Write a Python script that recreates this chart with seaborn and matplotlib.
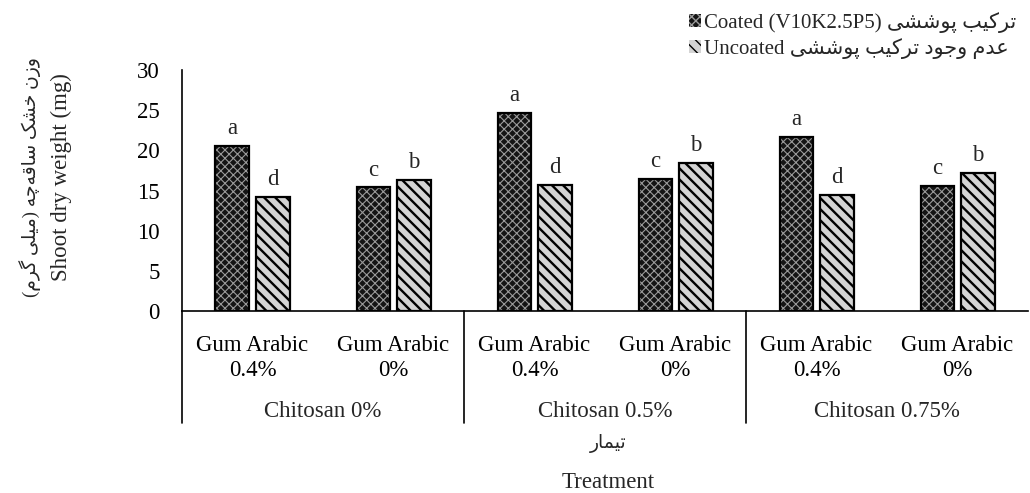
import matplotlib
matplotlib.use("Agg")
import matplotlib.pyplot as plt
import matplotlib.transforms as mtransforms
import seaborn as sns
import pandas as pd

# ---------------------------------------------------------------- data
chitosan_groups = ["Chitosan 0%", "Chitosan 0.5%", "Chitosan 0.75%"]
gum_levels = ["Gum Arabic\n0.4%", "Gum Arabic\n0%"]
coated_weight = [20.5, 15.4, 24.6, 16.5, 21.7, 15.6]
uncoated_weight = [14.2, 16.3, 15.7, 18.4, 14.5, 17.2]
coated_letters = ["a", "c", "a", "c", "a", "c"]
uncoated_letters = ["d", "b", "d", "b", "d", "b"]
coating_en = ["Coated (V10K2.5P5)", "Uncoated"]
coating_fa = ["ترکیب پوششی", "عدم وجود ترکیب پوششی"]
y_ticks = [0, 5, 10, 15, 20, 25, 30]
ylabel_en = "Shoot dry weight (mg)"
ylabel_fa = "وزن خشک ساقه\u200cچه (میلی گرم)"
xlabel_en = "Treatment"
xlabel_fa = "تیمار"

# ------------------------------------------- Persian glyph shaping (visual order)
# letter: (isolated, final, initial, medial); None = letter does not join forward
FORMS = {
    "\u0627": ("\uFE8D", "\uFE8E", None, None),
    "\u0628": ("\uFE8F", "\uFE90", "\uFE91", "\uFE92"),
    "\u067E": ("\uFB56", "\uFB57", "\uFB58", "\uFB59"),
    "\u062A": ("\uFE95", "\uFE96", "\uFE97", "\uFE98"),
    "\u062C": ("\uFE9D", "\uFE9E", "\uFE9F", "\uFEA0"),
    "\u0686": ("\uFB7A", "\uFB7B", "\uFB7C", "\uFB7D"),
    "\u062E": ("\uFEA5", "\uFEA6", "\uFEA7", "\uFEA8"),
    "\u062F": ("\uFEA9", "\uFEAA", None, None),
    "\u0631": ("\uFEAD", "\uFEAE", None, None),
    "\u0632": ("\uFEAF", "\uFEB0", None, None),
    "\u0633": ("\uFEB1", "\uFEB2", "\uFEB3", "\uFEB4"),
    "\u0634": ("\uFEB5", "\uFEB6", "\uFEB7", "\uFEB8"),
    "\u0639": ("\uFEC9", "\uFECA", "\uFECB", "\uFECC"),
    "\u0642": ("\uFED5", "\uFED6", "\uFED7", "\uFED8"),
    "\u06A9": ("\uFB8E", "\uFB8F", "\uFB90", "\uFB91"),
    "\u06AF": ("\uFB92", "\uFB93", "\uFB94", "\uFB95"),
    "\u0644": ("\uFEDD", "\uFEDE", "\uFEDF", "\uFEE0"),
    "\u0645": ("\uFEE1", "\uFEE2", "\uFEE3", "\uFEE4"),
    "\u0646": ("\uFEE5", "\uFEE6", "\uFEE7", "\uFEE8"),
    "\u0647": ("\uFEE9", "\uFEEA", "\uFEEB", "\uFEEC"),
    "\u0648": ("\uFEED", "\uFEEE", None, None),
    "\u06CC": ("\uFBFC", "\uFBFD", "\uFBFE", "\uFBFF"),
}


def rtl(text):
    out = []
    for i, ch in enumerate(text):
        if ch not in FORMS:
            out.append(ch)
            continue
        prev = text[i - 1] if i > 0 else None
        nxt = text[i + 1] if i + 1 < len(text) else None
        iso, fin, ini, med = FORMS[ch]
        join_prev = prev in FORMS and FORMS[prev][2] is not None
        join_next = ini is not None and nxt in FORMS
        if join_prev and join_next:
            out.append(med)
        elif join_prev:
            out.append(fin)
        elif join_next:
            out.append(ini)
        else:
            out.append(iso)
    vis = "".join(reversed(out)).replace("\u200c", "")
    return vis.translate(str.maketrans("()", ")("))


# ---------------------------------------------------------------- style
sns.set_style("white")
FAMILY = ["Liberation Serif", "DejaVu Sans"]
plt.rcParams["font.family"] = FAMILY
plt.rcParams["hatch.linewidth"] = 1.0
FS = 16.5

positions = [f"{g} | {lvl}" for g in chitosan_groups for lvl in gum_levels]
df = pd.DataFrame({
    "position": positions * 2,
    "coating": [coating_en[0]] * len(positions) + [coating_en[1]] * len(positions),
    "weight": coated_weight + uncoated_weight,
})

fig = plt.figure(figsize=(10.3, 4.93), dpi=100)
ax = fig.add_axes([0.1767, 0.3682, 0.8214, 0.4899])

common = dict(data=df, x="position", y="weight", hue="coating",
              order=positions, hue_order=coating_en, width=0.58, gap=0.19,
              errorbar=None, legend=False, ax=ax)

# hatched fills
sns.barplot(palette=["#141414", "#d2d2d2"], linewidth=0, **common)
fill_coated, fill_uncoated = ax.containers[0], ax.containers[1]
for p in fill_coated:
    p.set_facecolor("#141414")
    p.set_edgecolor("#9a9a9a")
    p.set_hatch("xxxx")
    if hasattr(p, "set_hatch_linewidth"):
        p.set_hatch_linewidth(0.8)
for p in fill_uncoated:
    p.set_facecolor("#d4d4d4")
    p.set_edgecolor("black")
    p.set_hatch("\\\\\\")
    if hasattr(p, "set_hatch_linewidth"):
        p.set_hatch_linewidth(1.7)

# black outlines on top
sns.barplot(palette=["black", "black"], fill=False, linewidth=1.6, **common)

# significance letters
ax.bar_label(fill_coated, labels=coated_letters, padding=5, fontsize=FS)
ax.bar_label(fill_uncoated, labels=uncoated_letters, padding=5, fontsize=FS)

# axes
ax.set_xlim(-0.5, len(positions) - 0.5)
ax.set_ylim(0, 30)
ax.set_yticks(y_ticks)
ax.set_yticklabels([str(t) for t in y_ticks], fontsize=FS)
ax.set_xticks(range(len(positions)))
ax.set_xticklabels(gum_levels * len(chitosan_groups), fontsize=FS, linespacing=1.25)
ax.tick_params(axis="both", length=0, colors="black")
ax.tick_params(axis="y", pad=16)
ax.tick_params(axis="x", pad=17)
ax.set_xlabel("")
ax.set_ylabel("")
for side in ["top", "right"]:
    ax.spines[side].set_visible(False)
for side in ["left", "bottom"]:
    ax.spines[side].set_color("black")
    ax.spines[side].set_linewidth(1.2)

# group separators and chitosan labels
trans = mtransforms.blended_transform_factory(ax.transData, ax.transAxes)
for xb in [-0.5, 1.5, 3.5]:
    ax.plot([xb, xb], [0, -0.46], transform=trans, color="black", lw=1.2,
            clip_on=False)
for gi, g in enumerate(chitosan_groups):
    ax.text(gi * 2 + 0.5, -0.415, g, transform=trans, ha="center", va="center",
            fontsize=FS)

# axis titles
fig.text(0.590, 0.100, rtl(xlabel_fa), ha="center", va="center", fontsize=13.5,
         family=FAMILY)
fig.text(0.590, 0.022, xlabel_en, ha="center", va="center", fontsize=FS,
         family=FAMILY)
fig.text(0.060, 0.641, ylabel_en, ha="center", va="center", rotation=90,
         fontsize=FS, family=FAMILY)
fig.text(0.029, 0.641, rtl(ylabel_fa), ha="center", va="center", rotation=90,
         fontsize=13.5, family=FAMILY)

# legend
labels = [f"{en} {rtl(fa)}" for en, fa in zip(coating_en, coating_fa)]
leg = fig.legend([fill_coated, fill_uncoated], labels, loc="upper left",
                 bbox_to_anchor=(0.655, 1.005), frameon=False, fontsize=15,
                 handlelength=0.55, handleheight=0.55, handletextpad=0.15,
                 labelspacing=0.25, borderpad=0.2)
for t in leg.get_texts():
    t.set_family(FAMILY)

fig.savefig("out.png", dpi=100, facecolor="white")
